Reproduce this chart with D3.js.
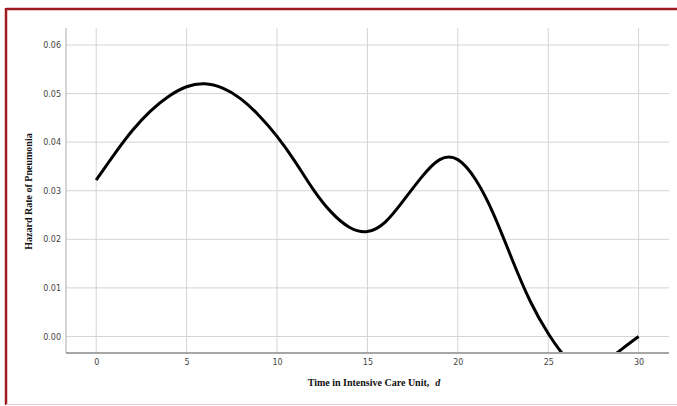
<!DOCTYPE html>
<html>
<head>
<meta charset="utf-8">
<script src="https://cdn.jsdelivr.net/npm/d3@7"></script>
<style>
  body { margin: 0; background: #fff; }
  svg { display: block; }
</style>
</head>
<body>
<div id="chart"></div>
<script>
  // chart data
  var days = [0,1,2,3,4,5,6,7,8,9,10,11,12,13,14,15,16,17,18,19,20,21,22,23,24,25,26,27,28,29,30];
  var hazard = [0.0322,0.0375,0.0424,0.0464,0.0494,0.0514,0.0520,0.0511,0.0489,0.0455,0.0412,0.0360,0.0303,0.0256,0.0225,0.0216,0.0236,0.0280,0.0328,0.0364,0.0364,0.0322,0.0250,0.0159,0.0073,0.0006,-0.0044,-0.0067,-0.0056,-0.0028,0.0000];
  var xTicks = [0,5,10,15,20,25,30];
  var yTicks = [0.00,0.01,0.02,0.03,0.04,0.05,0.06];
  var xTitle = "Time in Intensive Care Unit,";
  var yTitle = "Hazard Rate of Pneumonia";

  var width = 677, height = 406;
  // plot box (note: "top" is taken by window.top)
  var plotLeft = 66, plotRight = 669, plotTop = 28, plotBottom = 353;

  var svg = d3.select("#chart").append("svg")
    .attr("width", width).attr("height", height);

  // frame
  svg.append("line").attr("x1", 6).attr("x2", width).attr("y1", 9).attr("y2", 9)
    .attr("stroke", "#9e1b20").attr("stroke-width", 2.5);
  svg.append("line").attr("x1", 6).attr("x2", 6).attr("y1", 8).attr("y2", 405)
    .attr("stroke", "#9e1b20").attr("stroke-width", 2.5);
  svg.append("line").attr("x1", 6).attr("x2", width).attr("y1", 404.5).attr("y2", 404.5)
    .attr("stroke", "#e3cccc").attr("stroke-width", 1);

  var x = d3.scaleLinear().domain([-1.67, 31.68]).range([plotLeft, plotRight]);
  var y = d3.scaleLinear().domain([-0.0034, 0.0635]).range([plotBottom, plotTop]);

  // grid
  svg.append("g").selectAll("line").data(xTicks).join("line")
    .attr("x1", d => x(d)).attr("x2", d => x(d))
    .attr("y1", plotTop).attr("y2", plotBottom)
    .attr("stroke", "#d4d4d4").attr("stroke-width", 1);
  svg.append("g").selectAll("line").data(yTicks).join("line")
    .attr("x1", plotLeft).attr("x2", plotRight)
    .attr("y1", d => y(d)).attr("y2", d => y(d))
    .attr("stroke", "#d4d4d4").attr("stroke-width", 1);

  // axes
  var yAxis = svg.append("g").attr("transform", `translate(${plotLeft},0)`)
    .call(d3.axisLeft(y).tickValues(yTicks).tickFormat(d3.format(".2f")).tickSize(0).tickPadding(5));
  yAxis.select(".domain").attr("stroke", "#aaa").attr("d", `M0,${plotTop}V${plotBottom}`);
  var xAxis = svg.append("g").attr("transform", `translate(0,${plotBottom})`)
    .call(d3.axisBottom(x).tickValues(xTicks).tickSize(0).tickPadding(6));
  xAxis.select(".domain").attr("stroke", "#888").attr("stroke-width", 1.3).attr("d", `M${plotLeft},0H${plotRight}`);
  svg.selectAll(".tick text")
    .attr("font-family", "'DejaVu Sans', sans-serif").attr("font-size", 8).attr("fill", "#444");

  // curve, clipped to plot area
  svg.append("clipPath").attr("id", "plot")
    .append("rect").attr("x", plotLeft).attr("y", plotTop)
    .attr("width", plotRight - plotLeft).attr("height", plotBottom - plotTop - 1);

  var line = d3.line()
    .x((d, i) => x(days[i]))
    .y(d => y(d))
    .curve(d3.curveNatural);

  svg.append("path")
    .datum(hazard)
    .attr("clip-path", "url(#plot)")
    .attr("fill", "none")
    .attr("stroke", "#000")
    .attr("stroke-width", 3)
    .attr("stroke-linejoin", "round")
    .attr("d", line);

  // titles
  var xt = svg.append("text")
    .attr("x", 374).attr("y", 386)
    .attr("text-anchor", "middle")
    .attr("font-family", "'Liberation Serif', serif")
    .attr("font-weight", "bold").attr("font-size", 10).attr("fill", "#111");
  xt.append("tspan").text(xTitle);
  xt.append("tspan").attr("dx", 6).attr("font-style", "italic").text("d");

  svg.append("text")
    .attr("transform", `translate(32,${(plotTop + plotBottom) / 2 + 1}) rotate(-90)`)
    .attr("text-anchor", "middle")
    .attr("font-family", "'Liberation Serif', serif")
    .attr("font-weight", "bold").attr("font-size", 10).attr("fill", "#111")
    .text(yTitle);
</script>
</body>
</html>
